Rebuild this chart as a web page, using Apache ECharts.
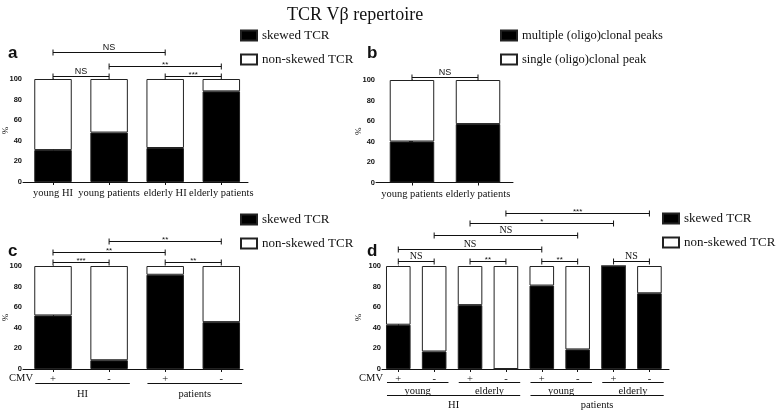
<!DOCTYPE html>
<html>
<head>
<meta charset="utf-8">
<script src="https://cdn.jsdelivr.net/npm/echarts@6/dist/echarts.min.js"></script>
<style>
html,body{margin:0;padding:0;background:#fff;}
#c{width:778px;height:412px;}
</style>
</head>
<body>
<div id="c"></div>
<script>
// ---------- data ----------
const catA = ['young HI', 'young patients', 'elderly HI', 'elderly patients'];
const skewA = [31, 48, 33, 88];
const nonSkewA = [69, 52, 67, 12];
const sigA = [[0, 1, 103, 'NS'], [2, 3, 103, '***'], [1, 3, 113, '**'], [0, 2, 126, 'NS']];

const catB = ['young patients', 'elderly patients'];
const multiB = [40, 57];
const singleB = [60, 43];
const sigB = [[0, 1, 103, 'NS']];

const catC = ['+', '-', '+', '-'];
const skewC = [52, 8.5, 91.5, 45.5];
const nonSkewC = [48, 91.5, 8.5, 54.5];
const sigC = [[0, 1, 104, '***'], [2, 3, 104, '**'], [0, 2, 113.5, '**'], [1, 3, 124.5, '**']];
const groupsC = [[0, 1, 0, 'HI'], [2, 3, 0, 'patients']];

const catD = ['+', '-', '+', '-', '+', '-', '+', '-'];
const skewD = [43, 17, 62, 0, 81, 19, 100, 73.5];
const nonSkewD = [57, 83, 38, 100, 19, 81, 0, 26.5];
const sigD = [[0, 1, 104.5, 'NS'], [2, 3, 104.5, '**'], [4, 5, 104.5, '**'], [6, 7, 104.5, 'NS'],
              [0, 4, 116.5, 'NS'], [1, 5, 130, 'NS'], [2, 6, 141.5, '*'], [3, 7, 151, '***']];
const groupsD = [[0, 1, 0, 'young'], [2, 3, 0, 'elderly'], [4, 5, 0, 'young'], [6, 7, 0, 'elderly'],
                 [0, 3, 1, 'HI'], [4, 7, 1, 'patients']];

const yTicks = [0, 20, 40, 60, 80, 100];

// ---------- styles ----------
const SERIF = '"Liberation Serif", "Times New Roman", serif';
const SANS = '"Liberation Sans", Arial, sans-serif';
const INK = '#111';

const chart = echarts.init(document.getElementById('c'));

function xAxisFor(grid, cats, min, max, margin, nameGap) {
  const ax = {
    type: 'value', gridIndex: grid, min: min, max: max,
    splitLine: { show: false },
    axisLine: { show: true, lineStyle: { color: INK, width: 1 } },
    axisTick: { show: true, length: 3, customValues: cats.map((c, i) => i), lineStyle: { color: INK } },
    axisLabel: {
      customValues: cats.map((c, i) => i),
      formatter: v => cats[Math.round(v)],
      fontFamily: SERIF, fontSize: 10.5, color: INK, margin: margin
    }
  };
  if (nameGap !== null) {
    ax.name = 'CMV';
    ax.nameLocation = 'start';
    ax.nameGap = nameGap;
    ax.nameMoveOverlap = false;
    ax.nameTextStyle = { fontFamily: SERIF, fontSize: 10.5, color: INK, verticalAlign: 'top', padding: [4, 0, 0, 0] };
  }
  return ax;
}
function yAxisFor(grid, gap) {
  return {
    type: 'value', gridIndex: grid, min: 0, max: 100, interval: 20,
    splitLine: { show: false },
    axisLine: { show: true, lineStyle: { color: INK, width: 1 } },
    axisTick: { show: true, length: 3, lineStyle: { color: INK } },
    axisLabel: { fontFamily: SANS, fontSize: 7.5, fontWeight: 'bold', color: INK, margin: 1,
                 customValues: yTicks },
    name: '%', nameLocation: 'middle', nameGap: gap, nameRotate: 90, nameMoveOverlap: false,
    nameTextStyle: { fontFamily: SERIF, fontSize: 9, color: INK }
  };
}
// data items are [value, categoryIndex] so the stack runs over the value dimension
function barPair(grid, cats, lo, hi, nameLo, nameHi, w) {
  const base = { type: 'bar', xAxisIndex: grid, yAxisIndex: grid, stack: 'g' + grid, barWidth: w,
                 silent: true, animation: false, encode: { x: 1, y: 0 } };
  return [
    Object.assign({}, base, { name: nameLo, data: cats.map((c, i) => [lo[i], i]),
      itemStyle: { color: '#000', borderColor: '#222', borderWidth: 1 } }),
    Object.assign({}, base, { name: nameHi, data: cats.map((c, i) => [hi[i], i]),
      itemStyle: { color: '#fff', borderColor: '#222', borderWidth: 1 } })
  ];
}
function sigSeries(grid, sig, nsFont) {
  return {
    type: 'custom', xAxisIndex: grid, yAxisIndex: grid, silent: true, animation: false, z: 5,
    data: sig.map(s => [s[0], s[1], s[2]]),
    encode: { x: [0, 1], y: 2 },
    renderItem: (params, api) => {
      const s = sig[params.dataIndex];
      const p1 = api.coord([api.value(0), api.value(2)]);
      const p2 = api.coord([api.value(1), api.value(2)]);
      const y = Math.round(p1[1]) + 0.5;
      const ln = { stroke: INK, lineWidth: 1 };
      const isStar = s[3].indexOf('*') >= 0;
      return {
        type: 'group', children: [
          { type: 'line', shape: { x1: p1[0], y1: y, x2: p2[0], y2: y }, style: ln },
          { type: 'line', shape: { x1: p1[0], y1: y - 3, x2: p1[0], y2: y + 3 }, style: ln },
          { type: 'line', shape: { x1: p2[0], y1: y - 3, x2: p2[0], y2: y + 3 }, style: ln },
          { type: 'text', x: (p1[0] + p2[0]) / 2, y: isStar ? y + 2 : y,
            style: { text: s[3], align: 'center', verticalAlign: 'bottom', fill: INK,
                     fontFamily: isStar ? SANS : nsFont.family, fontSize: isStar ? 8 : nsFont.size } }
        ]
      };
    }
  };
}
function groupSeries(grid, groups, rows, half) {
  return {
    type: 'custom', xAxisIndex: grid, yAxisIndex: grid, silent: true, animation: false, z: 5,
    data: groups.map(g => [g[0], g[1]]),
    encode: { x: [0, 1] },
    renderItem: (params, api) => {
      const g = groups[params.dataIndex];
      const a = api.coord([api.value(0), 0]);
      const b = api.coord([api.value(1), 0]);
      const row = rows[g[2]];
      const x1 = a[0] - half + 1, x2 = b[0] + half + 2;
      const yl = Math.round(a[1] + row.line) + 0.5;
      return {
        type: 'group', children: [
          { type: 'line', shape: { x1: x1, y1: yl, x2: x2, y2: yl }, style: { stroke: INK, lineWidth: 1 } },
          { type: 'text', x: (x1 + x2) / 2, y: a[1] + row.text,
            style: { text: g[3], align: 'center', verticalAlign: 'middle', fill: INK,
                     fontFamily: row.font, fontSize: row.size } }
        ]
      };
    }
  };
}

const legText = { fontFamily: SERIF, fontSize: 13, color: INK };
const legBase = { orient: 'vertical', icon: 'rect', itemWidth: 16, itemHeight: 10, itemGap: 11,
                  textStyle: legText, selectedMode: false, padding: 0 };
const gridBase = { outerBoundsMode: 'none', containLabel: false };

const option = {
  animation: false,
  backgroundColor: '#fff',
  title: [
    { text: 'TCR Vβ repertoire', left: 282, top: 1,
      textStyle: { fontFamily: SERIF, fontSize: 18, fontWeight: 'normal', color: INK } },
    { text: 'a', left: 3, top: 40, textStyle: { fontFamily: SANS, fontSize: 17, fontWeight: 'bold', color: INK } },
    { text: 'b', left: 362, top: 40, textStyle: { fontFamily: SANS, fontSize: 17, fontWeight: 'bold', color: INK } },
    { text: 'c', left: 3, top: 238, textStyle: { fontFamily: SANS, fontSize: 17, fontWeight: 'bold', color: INK } },
    { text: 'd', left: 362, top: 238, textStyle: { fontFamily: SANS, fontSize: 17, fontWeight: 'bold', color: INK } }
  ],
  legend: [
    Object.assign({}, legBase, { left: 240, top: 29, data: ['skewed TCR', 'non-skewed TCR'] }),
    Object.assign({}, legBase, { left: 500, top: 29, data: ['multiple (oligo)clonal peaks', 'single (oligo)clonal peak'],
                                 textStyle: Object.assign({}, legText, { fontSize: 12.5 }) }),
    Object.assign({}, legBase, { left: 240, top: 213, data: ['skewed TCR', 'non-skewed TCR'] }),
    Object.assign({}, legBase, { left: 662, top: 212, data: ['skewed TCR', 'non-skewed TCR'] })
  ],
  grid: [
    Object.assign({}, gridBase, { left: 23, top: 79, width: 225, height: 103 }),
    Object.assign({}, gridBase, { left: 376, top: 80, width: 137, height: 102.5 }),
    Object.assign({}, gridBase, { left: 23, top: 266, width: 220, height: 103 }),
    Object.assign({}, gridBase, { left: 382, top: 266, width: 287, height: 103 })
  ],
  xAxis: [
    xAxisFor(0, catA, -0.535, 3.476, 6, null),
    xAxisFor(1, catB, -0.545, 1.530, 6, null),
    xAxisFor(2, catC, -0.535, 3.387, 5, -10),
    xAxisFor(3, catD, -0.454, 7.546, 5, -1)
  ],
  yAxis: [yAxisFor(0, 13), yAxisFor(1, 13), yAxisFor(2, 13), yAxisFor(3, 19)],
  series: [
    ...barPair(0, catA, skewA, nonSkewA, 'skewed TCR', 'non-skewed TCR', 37.5),
    ...barPair(1, catB, multiB, singleB, 'multiple (oligo)clonal peaks', 'single (oligo)clonal peak', 44.5),
    ...barPair(2, catC, skewC, nonSkewC, 'skewed TCR', 'non-skewed TCR', 37.5),
    ...barPair(3, catD, skewD, nonSkewD, 'skewed TCR', 'non-skewed TCR', 24.6),
    sigSeries(0, sigA, { family: SANS, size: 9 }),
    sigSeries(1, sigB, { family: SANS, size: 9 }),
    sigSeries(2, sigC, { family: SANS, size: 9 }),
    sigSeries(3, sigD, { family: SERIF, size: 10 }),
    groupSeries(2, groupsC, [{ line: 14, text: 25, font: SERIF, size: 10.5 }], 18.75),
    groupSeries(3, groupsD, [{ line: 13, text: 22, font: SERIF, size: 10.5 },
                             { line: 26, text: 36, font: SERIF, size: 10.5 }], 12.3)
  ]
};
chart.setOption(option);
</script>
</body>
</html>
